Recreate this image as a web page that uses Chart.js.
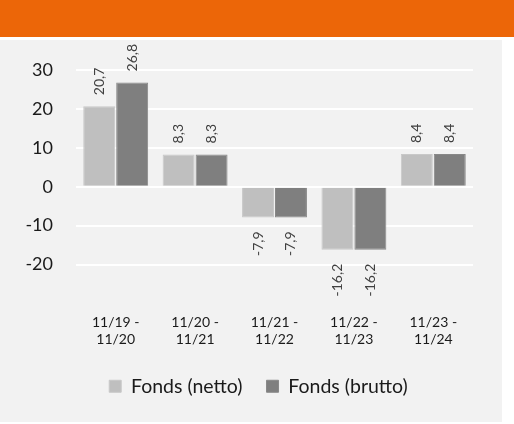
<!DOCTYPE html>
<html>
<head>
<meta charset="UTF-8">
<title>Fonds</title>
<script src="https://cdn.jsdelivr.net/npm/chart.js"></script>
<style>
  html, body { margin: 0; padding: 0; background: #fff; }
  #top { position: absolute; left: 0; top: 0; width: 514px; height: 37px; background: #ec6608; }
  #panel { position: absolute; left: 0; top: 40px; width: 502px; height: 382px; background: #f2f2f2; }
</style>
</head>
<body>
<div id="top"></div>
<div id="panel"><canvas id="chart" width="502" height="382"></canvas></div>
<script>
// data
const periods = [['11/19 -', '11/20'], ['11/20 -', '11/21'], ['11/21 -', '11/22'], ['11/22 -', '11/23'], ['11/23 -', '11/24']];
const netto = [20.7, 8.3, -7.9, -16.2, 8.4];
const brutto = [26.8, 8.3, -7.9, -16.2, 8.4];
const seriesNames = ['Fonds (netto)', 'Fonds (brutto)'];
const yTicks = [-20, -10, 0, 10, 20, 30];

const fontFam = 'Lato, "Open Sans", sans-serif';

// rotated value labels
const valueLabels = {
    id: 'valueLabels',
    afterDatasetsDraw(chart) {
        const ctx = chart.ctx;
        ctx.save();
        ctx.font = '14px ' + fontFam;
        ctx.fillStyle = '#404040';
        ctx.textBaseline = 'middle';
        chart.data.datasets.forEach((ds, i) => {
            chart.getDatasetMeta(i).data.forEach((bar, j) => {
                const v = ds.data[j];
                const txt = v.toFixed(1).replace('.', ',');
                ctx.save();
                if (v >= 0) {
                    ctx.translate(bar.x, bar.y - 11);
                    ctx.rotate(-Math.PI / 2);
                    ctx.textAlign = 'left';
                } else {
                    ctx.translate(bar.x, bar.y + 14);
                    ctx.rotate(-Math.PI / 2);
                    ctx.textAlign = 'right';
                }
                ctx.fillText(txt, 0, 0);
                ctx.restore();
            });
        });
        ctx.restore();
    }
};

// legend sits a bit right of the canvas centre
const legendShift = {
    id: 'legendShift',
    afterLayout(chart) {
        chart.legend.left += 22;
        chart.legend.right += 22;
    }
};

new Chart(document.getElementById('chart'), {
    type: 'bar',
    data: {
        labels: periods,
        datasets: [
            { label: seriesNames[0], data: netto, backgroundColor: '#bfbfbf', borderColor: '#c8c8c8', borderWidth: 1,
              categoryPercentage: 0.83, barPercentage: 0.97 },
            { label: seriesNames[1], data: brutto, backgroundColor: '#7f7f7f', borderColor: '#888888', borderWidth: 1,
              categoryPercentage: 0.83, barPercentage: 0.97 }
        ]
    },
    options: {
        responsive: false,
        animation: false,
        layout: { padding: { top: 30, right: 29, left: 0, bottom: 16 } },
        plugins: {
            legend: {
                position: 'bottom',
                labels: {
                    boxWidth: 12, boxHeight: 12, padding: 24,
                    color: '#1a1a1a',
                    font: { size: 19.5, family: fontFam }
                }
            },
            tooltip: { enabled: false }
        },
        scales: {
            x: {
                grid: { display: false, drawTicks: false },
                border: { display: false },
                ticks: { color: '#1a1a1a', padding: 49, maxRotation: 0, font: { size: 14, family: fontFam, lineHeight: 1.25 } },
                afterFit(scale) { scale.height = 88; scale.paddingLeft = 0; scale.paddingRight = 0; }
            },
            y: {
                min: -20, max: 30,
                afterBuildTicks(scale) { scale.ticks = yTicks.map(v => ({ value: v })); },
                grid: { color: '#ffffff', lineWidth: 2, drawTicks: false },
                border: { display: false },
                ticks: { color: '#1a1a1a', padding: 23, font: { size: 18, family: fontFam } },
                afterFit(scale) { scale.width = 76; scale.paddingTop = 0; scale.paddingBottom = 0; }
            }
        }
    },
    plugins: [valueLabels, legendShift]
});
</script>
</body>
</html>
